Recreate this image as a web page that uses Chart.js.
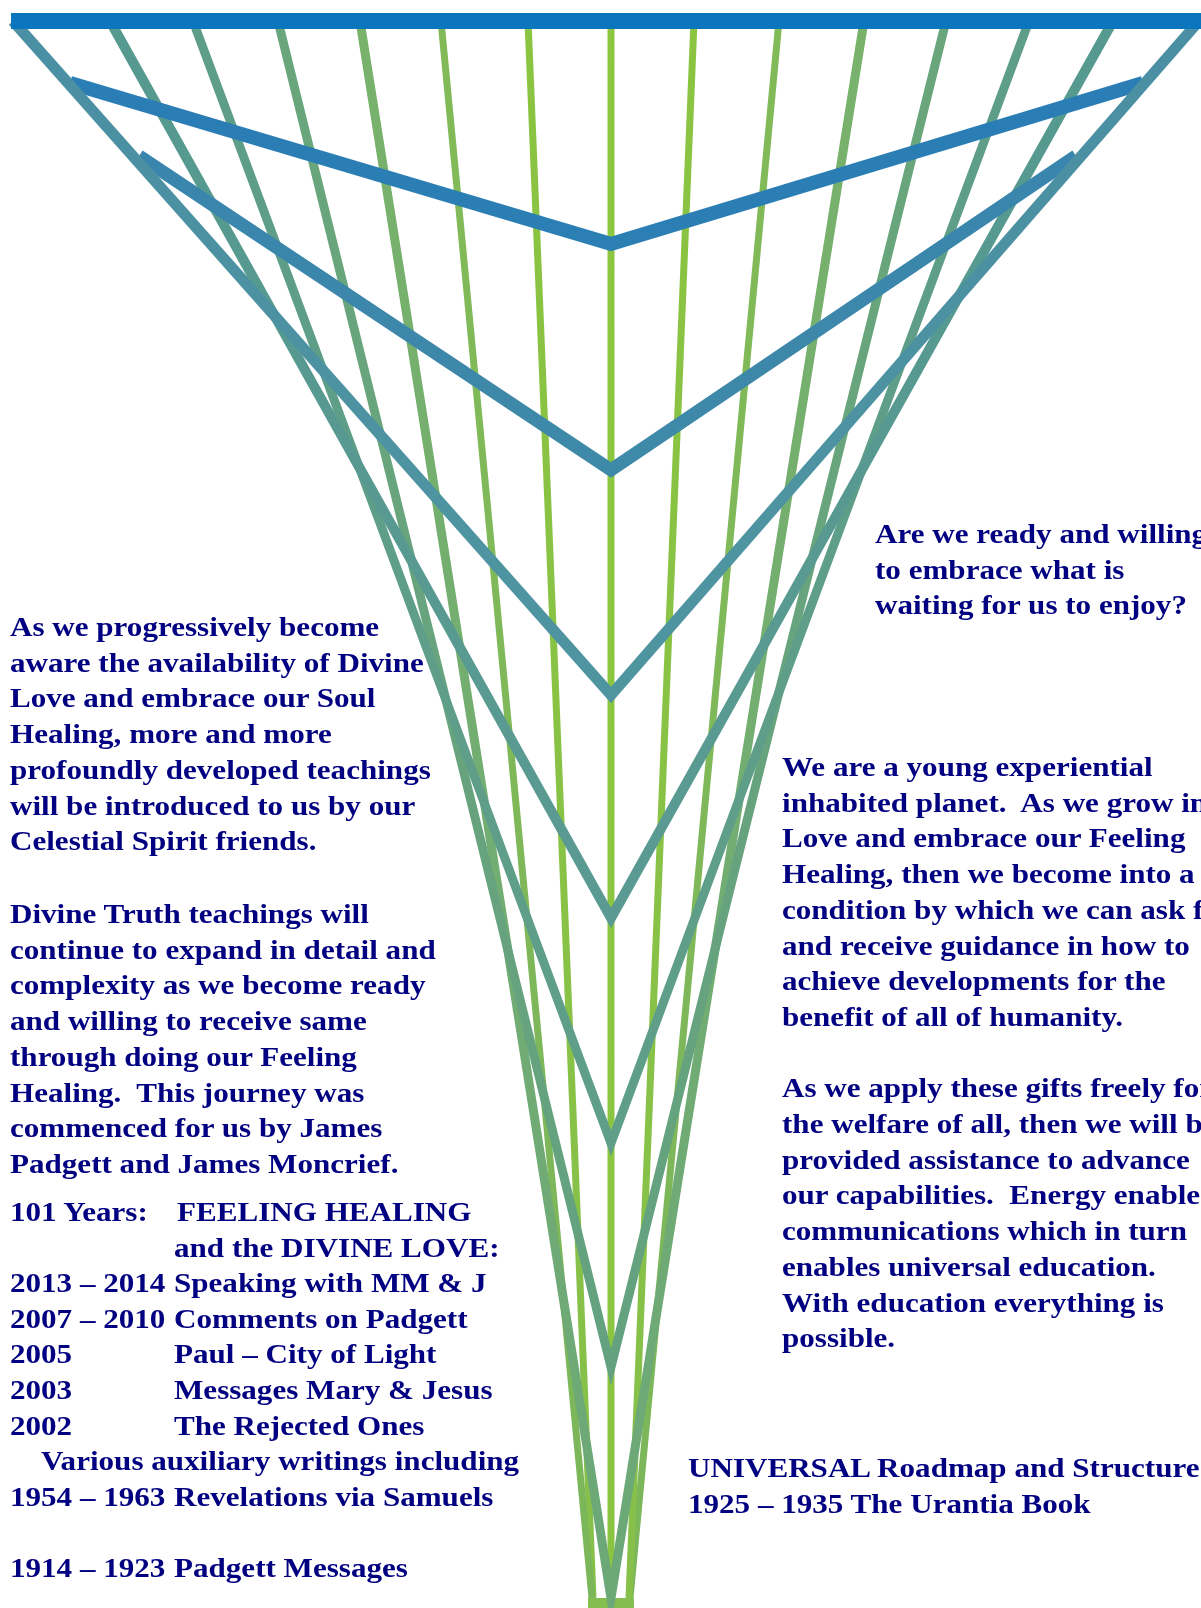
<!DOCTYPE html>
<html>
<head>
<meta charset="utf-8">
<script src="https://cdn.jsdelivr.net/npm/chart.js@4.4.1/dist/chart.umd.min.js"></script>
<style>
html, body { margin: 0; padding: 0; background: #ffffff; overflow: hidden; }
#wrap { position: relative; width: 1201px; height: 1608px; overflow: hidden; background: #ffffff; }
#c { position: absolute; left: 0; top: 0; }
.t { position: absolute; font-family: "Liberation Serif", "Times New Roman", serif; font-weight: bold;
     font-size: 28px; line-height: 35.7px; color: #000080; white-space: pre; }
.sx { transform: scaleX(1.11); transform-origin: 0 0; }
.row { position: relative; height: 35.6px; }
.row span { position: absolute; top: 0; white-space: pre; transform: scaleX(1.11); transform-origin: 0 0; }
</style>
</head>
<body>
<div id="wrap">
<canvas id="c" width="1201" height="1608"></canvas>

<div class="t sx" style="left:10px; top:609px;">As we progressively become
aware the availability of Divine
Love and embrace our Soul
Healing, more and more
profoundly developed teachings
will be introduced to us by our
Celestial Spirit friends.</div>

<div class="t sx" style="left:10px; top:896px;">Divine Truth teachings will
continue to expand in detail and
complexity as we become ready
and willing to receive same
through doing our Feeling
Healing.  This journey was
commenced for us by James
Padgett and James Moncrief.</div>

<div class="t" id="timeline" style="left:0px; top:1194px; width:600px; line-height:35.7px;"></div>

<div class="t sx" style="left:875px; top:516px;">Are we ready and willing
to embrace what is
waiting for us to enjoy?</div>

<div class="t sx" style="left:782px; top:749px;">We are a young experiential
inhabited planet.  As we grow in
Love and embrace our Feeling
Healing, then we become into a
condition by which we can ask for
and receive guidance in how to
achieve developments for the
benefit of all of humanity.

As we apply these gifts freely for
the welfare of all, then we will be
provided assistance to advance
our capabilities.  Energy enables
communications which in turn
enables universal education.
With education everything is
possible.</div>

<div class="t sx" style="left:688px; top:1450px;">UNIVERSAL Roadmap and Structure
1925 – 1935 The Urantia Book</div>
</div>

<script>
// ---------------- data ----------------
// V-shaped rings: outer end points and the vertex on the centre line
const ringVertexY = [695, 244, 470, 918, 1143, 1367, 1598];
const ringLeftX   = [13, 70, 139, 110, 193, 278, 360];
const ringRightX  = [1199, 1143, 1076, 1113, 1029, 946, 864];
const ringEndY    = [21, 83, 156, 21, 21, 21, 21];
const centreX     = 611;

// straight spokes from the top bar down to the base
const spokeTopX    = [441, 528, 611, 694, 779];
const spokeBottomX = [592, 593, 611, 629, 630];
const spokeTopY    = 21;
const spokeBottomY = 1598;

// top bar and base bar
const topBarX  = [11, 1201];
const topBarY  = 21;
const baseBarX = [588, 634];
const baseBarY = 1603;

// timeline text
const timelineYears = ["101 Years:", "", "2013 – 2014", "2007 – 2010", "2005", "2003", "2002", "", "1954 – 1963", "", "1914 – 1923"];
const timelineTitles = ["FEELING HEALING", "and the DIVINE LOVE:", "Speaking with MM & J", "Comments on Padgett",
  "Paul – City of Light", "Messages Mary & Jesus", "The Rejected Ones", "", "Revelations via Samuels", "", "Padgett Messages"];
const timelineNote = "Various auxiliary writings including";

// ---------------- styles ----------------
const ringWidth       = [11, 14, 13, 10, 9, 9, 9];
const ringColourOuter = ['#4A8FA3', '#2A7DB5', '#3985AD', '#55998F', '#5E9E88', '#6AA67B', '#79B26B'];
const ringColourInner = ['#4F95A0', '#2C7FB3', '#3F89A8', '#5A9A92', '#5F9E88', '#64A17F', '#6CA878'];
const spokeColourTop    = ['#82BA58', '#8BC441', '#8DC63F', '#8BC441', '#82BA58'];
const spokeColourBottom = ['#7BB65A', '#86C04A', '#8BC441', '#86C04A', '#7BB65A'];

// build timeline rows
(function () {
  const tl = document.getElementById('timeline');
  for (let i = 0; i < timelineYears.length; i++) {
    const row = document.createElement('div');
    row.className = 'row';
    if (i === 7) {
      const s = document.createElement('span');
      s.style.left = '41px';
      s.textContent = timelineNote;
      row.appendChild(s);
    } else {
      const a = document.createElement('span');
      a.style.left = '10px';
      a.textContent = timelineYears[i];
      row.appendChild(a);
      const b = document.createElement('span');
      b.style.left = (i === 0 ? 177 : 174) + 'px';
      b.textContent = timelineTitles[i];
      row.appendChild(b);
    }
    tl.appendChild(row);
  }
})();

function vGradient(c1, c2, y1, y2) {
  return function (ctx) {
    const chart = ctx.chart;
    if (!chart.chartArea) return c1;
    const ys = chart.scales.y;
    const g = chart.ctx.createLinearGradient(0, ys.getPixelForValue(y1), 0, ys.getPixelForValue(y2));
    g.addColorStop(0, c1);
    g.addColorStop(1, c2);
    return g;
  };
}

const datasets = [];
// top bar (drawn on top)
datasets.push({
  data: [{x: topBarX[0], y: topBarY}, {x: topBarX[1], y: topBarY}],
  borderColor: '#0B76BD', borderWidth: 16
});
// rings
for (let i = 0; i < ringVertexY.length; i++) {
  datasets.push({
    data: [
      {x: ringLeftX[i], y: ringEndY[i]},
      {x: centreX, y: ringVertexY[i]},
      {x: ringRightX[i], y: ringEndY[i]}
    ],
    borderColor: vGradient(ringColourOuter[i], ringColourInner[i], ringEndY[i], ringVertexY[i]),
    borderWidth: ringWidth[i]
  });
}
// base bar
datasets.push({
  data: [{x: baseBarX[0], y: baseBarY}, {x: baseBarX[1], y: baseBarY}],
  borderColor: '#84BE4F', borderWidth: 10
});
// spokes
for (let i = 0; i < spokeTopX.length; i++) {
  datasets.push({
    data: [{x: spokeTopX[i], y: spokeTopY}, {x: spokeBottomX[i], y: spokeBottomY}],
    borderColor: vGradient(spokeColourTop[i], spokeColourBottom[i], spokeTopY, spokeBottomY),
    borderWidth: 7
  });
}
datasets.forEach(d => {
  d.showLine = true;
  d.pointRadius = 0;
  d.pointHoverRadius = 0;
  d.fill = false;
  d.tension = 0;
  d.borderJoinStyle = 'miter';
  d.borderCapStyle = 'butt';
  d.clip = false;
});

new Chart(document.getElementById('c'), {
  type: 'scatter',
  data: { datasets },
  options: {
    responsive: false,
    animation: false,
    devicePixelRatio: 1,
    layout: { padding: 0 },
    events: [],
    plugins: { legend: { display: false }, tooltip: { enabled: false } },
    scales: {
      x: { type: 'linear', min: 0, max: 1201, display: false },
      y: { type: 'linear', min: 0, max: 1608, reverse: true, display: false }
    }
  }
});
</script>
</body>
</html>
